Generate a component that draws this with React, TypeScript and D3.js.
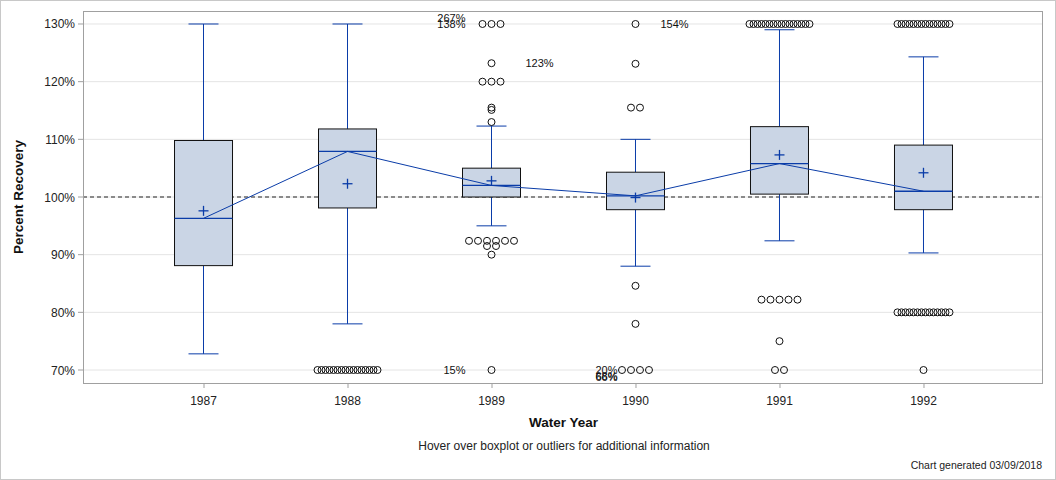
import React from "react";
import * as d3 from "d3";

const years = ["1987", "1988", "1989", "1990", "1991", "1992"];
const whiskerLow = [72.8, 78.0, 95.0, 88.0, 92.4, 90.3];
const q1 = [88.1, 98.1, 100.0, 97.8, 100.5, 97.8];
const medians = [96.3, 107.9, 102.0, 100.2, 105.8, 101.0];
const q3 = [109.8, 111.8, 105.0, 104.3, 112.2, 109.0];
const whiskerHigh = [130.0, 130.0, 112.3, 110.0, 129.0, 124.3];
const means = [97.6, 102.3, 102.8, 99.9, 107.3, 104.2];

// outliers: [year, value, count]
const outliers: [string, number, number][] = [
  ["1988", 70, 16],
  ["1989", 130, 3],
  ["1989", 123.2, 1],
  ["1989", 120, 3],
  ["1989", 115.5, 1],
  ["1989", 115.1, 1],
  ["1989", 113, 1],
  ["1989", 92.4, 6],
  ["1989", 91.5, 2],
  ["1989", 90, 1],
  ["1989", 70, 1],
  ["1990", 130, 1],
  ["1990", 123.1, 1],
  ["1990", 115.5, 2],
  ["1990", 84.6, 1],
  ["1990", 78, 1],
  ["1990", 70, 4],
  ["1991", 130, 16],
  ["1991", 82.2, 5],
  ["1991", 75, 1],
  ["1991", 70, 2],
  ["1992", 130, 14],
  ["1992", 80, 14],
  ["1992", 70, 1],
];

// off-scale labels: [year, value, text]
const offLabels: [string, number, string][] = [
  ["1989", 131.0, "267%"],
  ["1989", 130.0, "138%"],
  ["1989", 123.2, "123%"],
  ["1989", 70, "15%"],
  ["1990", 130, "154%"],
  ["1990", 70, "20%"],
  ["1990", 68.9, "68%"],
  ["1990", 68.8, "66%"],
];
// horizontal label offsets from the category centre (layout)
const offLabelDx = [-26, -26, 34, -26, 25, -18, -18, -18];

const yTicks = [70, 80, 90, 100, 110, 120, 130];

const W = 1056;
const H = 480;
const left = 83;
const right = 1042;
const top = 11;
const bottom = 383;

const blue = "#0a3ca8";
const font = "Arial, 'Liberation Sans', sans-serif";

export default function App() {
  const y = d3.scaleLinear().domain([67.746, 132.254]).range([bottom, top]);
  const x = d3.scalePoint<string>().domain(years).range([left + 1, right + 1]).padding(0.83);
  const boxW = 58;
  const capW = 30;

  const medianLine = d3
    .line<number>()
    .x((_, i) => x(years[i]) as number)
    .y((d) => y(d));

  const circles: { cx: number; cy: number; key: string }[] = [];
  outliers.forEach(([yr, v, n], gi) => {
    const sp = n > 7 ? 4 : 9;
    const cx0 = x(yr) as number;
    for (let k = 0; k < n; k++) {
      const off = (k - (n - 1) / 2) * sp;
      circles.push({ cx: cx0 + off, cy: y(v), key: `${gi}-${k}` });
    }
  });

  return (
    <svg
      width={W}
      height={H}
      style={{ position: "absolute", left: 0, top: 0 }}
      fontFamily={font}
    >
      <rect x={0.5} y={0.5} width={W - 1} height={H - 1} fill="white" stroke="#c8c8c8" />
      {yTicks.map((t) => (
        <line key={t} x1={left} x2={right} y1={y(t)} y2={y(t)} stroke="#e4e4e4" strokeWidth={1} />
      ))}
      <line
        x1={left}
        x2={right}
        y1={y(100)}
        y2={y(100)}
        stroke="#8a8a8a"
        strokeWidth={2}
        strokeDasharray="4,3"
      />
      <rect
        x={left + 0.5}
        y={top + 0.5}
        width={right - left}
        height={bottom - top}
        fill="none"
        stroke="#a0a0a0"
      />
      {yTicks.map((t) => (
        <g key={t}>
          <line x1={left - 5} x2={left} y1={y(t)} y2={y(t)} stroke="#a0a0a0" />
          <text x={left - 8} y={y(t) + 4.5} textAnchor="end" fontSize={12} fill="#222">
            {t}%
          </text>
        </g>
      ))}
      <text
        transform={`translate(${23},${(top + bottom) / 2}) rotate(-90)`}
        textAnchor="middle"
        fontSize={13.5}
        fontWeight="bold"
        fill="#111"
      >
        Percent Recovery
      </text>
      {years.map((yr) => (
        <g key={yr}>
          <line
            x1={(x(yr) as number) + 0.5}
            x2={(x(yr) as number) + 0.5}
            y1={bottom}
            y2={bottom + 5}
            stroke="#a0a0a0"
          />
          <text x={x(yr) as number} y={bottom + 22} textAnchor="middle" fontSize={12} fill="#222">
            {yr}
          </text>
        </g>
      ))}
      <text x={(left + right) / 2 + 1} y={427} textAnchor="middle" fontSize={13.5} fontWeight="bold" fill="#111">
        Water Year
      </text>
      {years.map((yr, i) => {
        const cx = x(yr) as number;
        return (
          <g key={yr}>
            <line x1={cx} x2={cx} y1={y(whiskerHigh[i])} y2={y(q3[i])} stroke={blue} />
            <line x1={cx} x2={cx} y1={y(q1[i])} y2={y(whiskerLow[i])} stroke={blue} />
            <line x1={cx - capW / 2} x2={cx + capW / 2} y1={y(whiskerHigh[i])} y2={y(whiskerHigh[i])} stroke={blue} />
            <line x1={cx - capW / 2} x2={cx + capW / 2} y1={y(whiskerLow[i])} y2={y(whiskerLow[i])} stroke={blue} />
            <rect
              x={cx - boxW / 2}
              y={y(q3[i])}
              width={boxW}
              height={y(q1[i]) - y(q3[i])}
              fill="#cad5e5"
              stroke="#111"
            />
            <line x1={cx - boxW / 2} x2={cx + boxW / 2} y1={y(medians[i])} y2={y(medians[i])} stroke={blue} strokeWidth={1.3} />
          </g>
        );
      })}
      <path d={medianLine(medians) || ""} fill="none" stroke={blue} strokeWidth={1} />
      {years.map((yr, i) => {
        const cx = x(yr) as number;
        const cy = y(means[i]);
        return (
          <g key={"m" + yr} stroke={blue} strokeWidth={1.3}>
            <line x1={cx - 5} x2={cx + 5} y1={cy} y2={cy} />
            <line x1={cx} x2={cx} y1={cy - 5} y2={cy + 5} />
          </g>
        );
      })}
      {circles.map((c) => (
        <circle key={c.key} cx={c.cx} cy={c.cy} r={3.5} fill="none" stroke="#111" strokeWidth={1} />
      ))}
      {offLabels.map(([yr, v, t], i) => {
        const cx = x(yr) as number;
        const dx = offLabelDx[i];
        return (
          <text
            key={i}
            x={cx + dx}
            y={y(v) + 4}
            textAnchor={dx < 0 ? "end" : "start"}
            fontSize={11}
            fill="#111"
          >
            {t}
          </text>
        );
      })}
      <text x={564} y={450} textAnchor="middle" fontSize={12} fill="#222">
        Hover over boxplot or outliers for additional information
      </text>
      <text x={1042} y={469} textAnchor="end" fontSize={10.5} fill="#222">
        Chart generated 03/09/2018
      </text>
    </svg>
  );
}
